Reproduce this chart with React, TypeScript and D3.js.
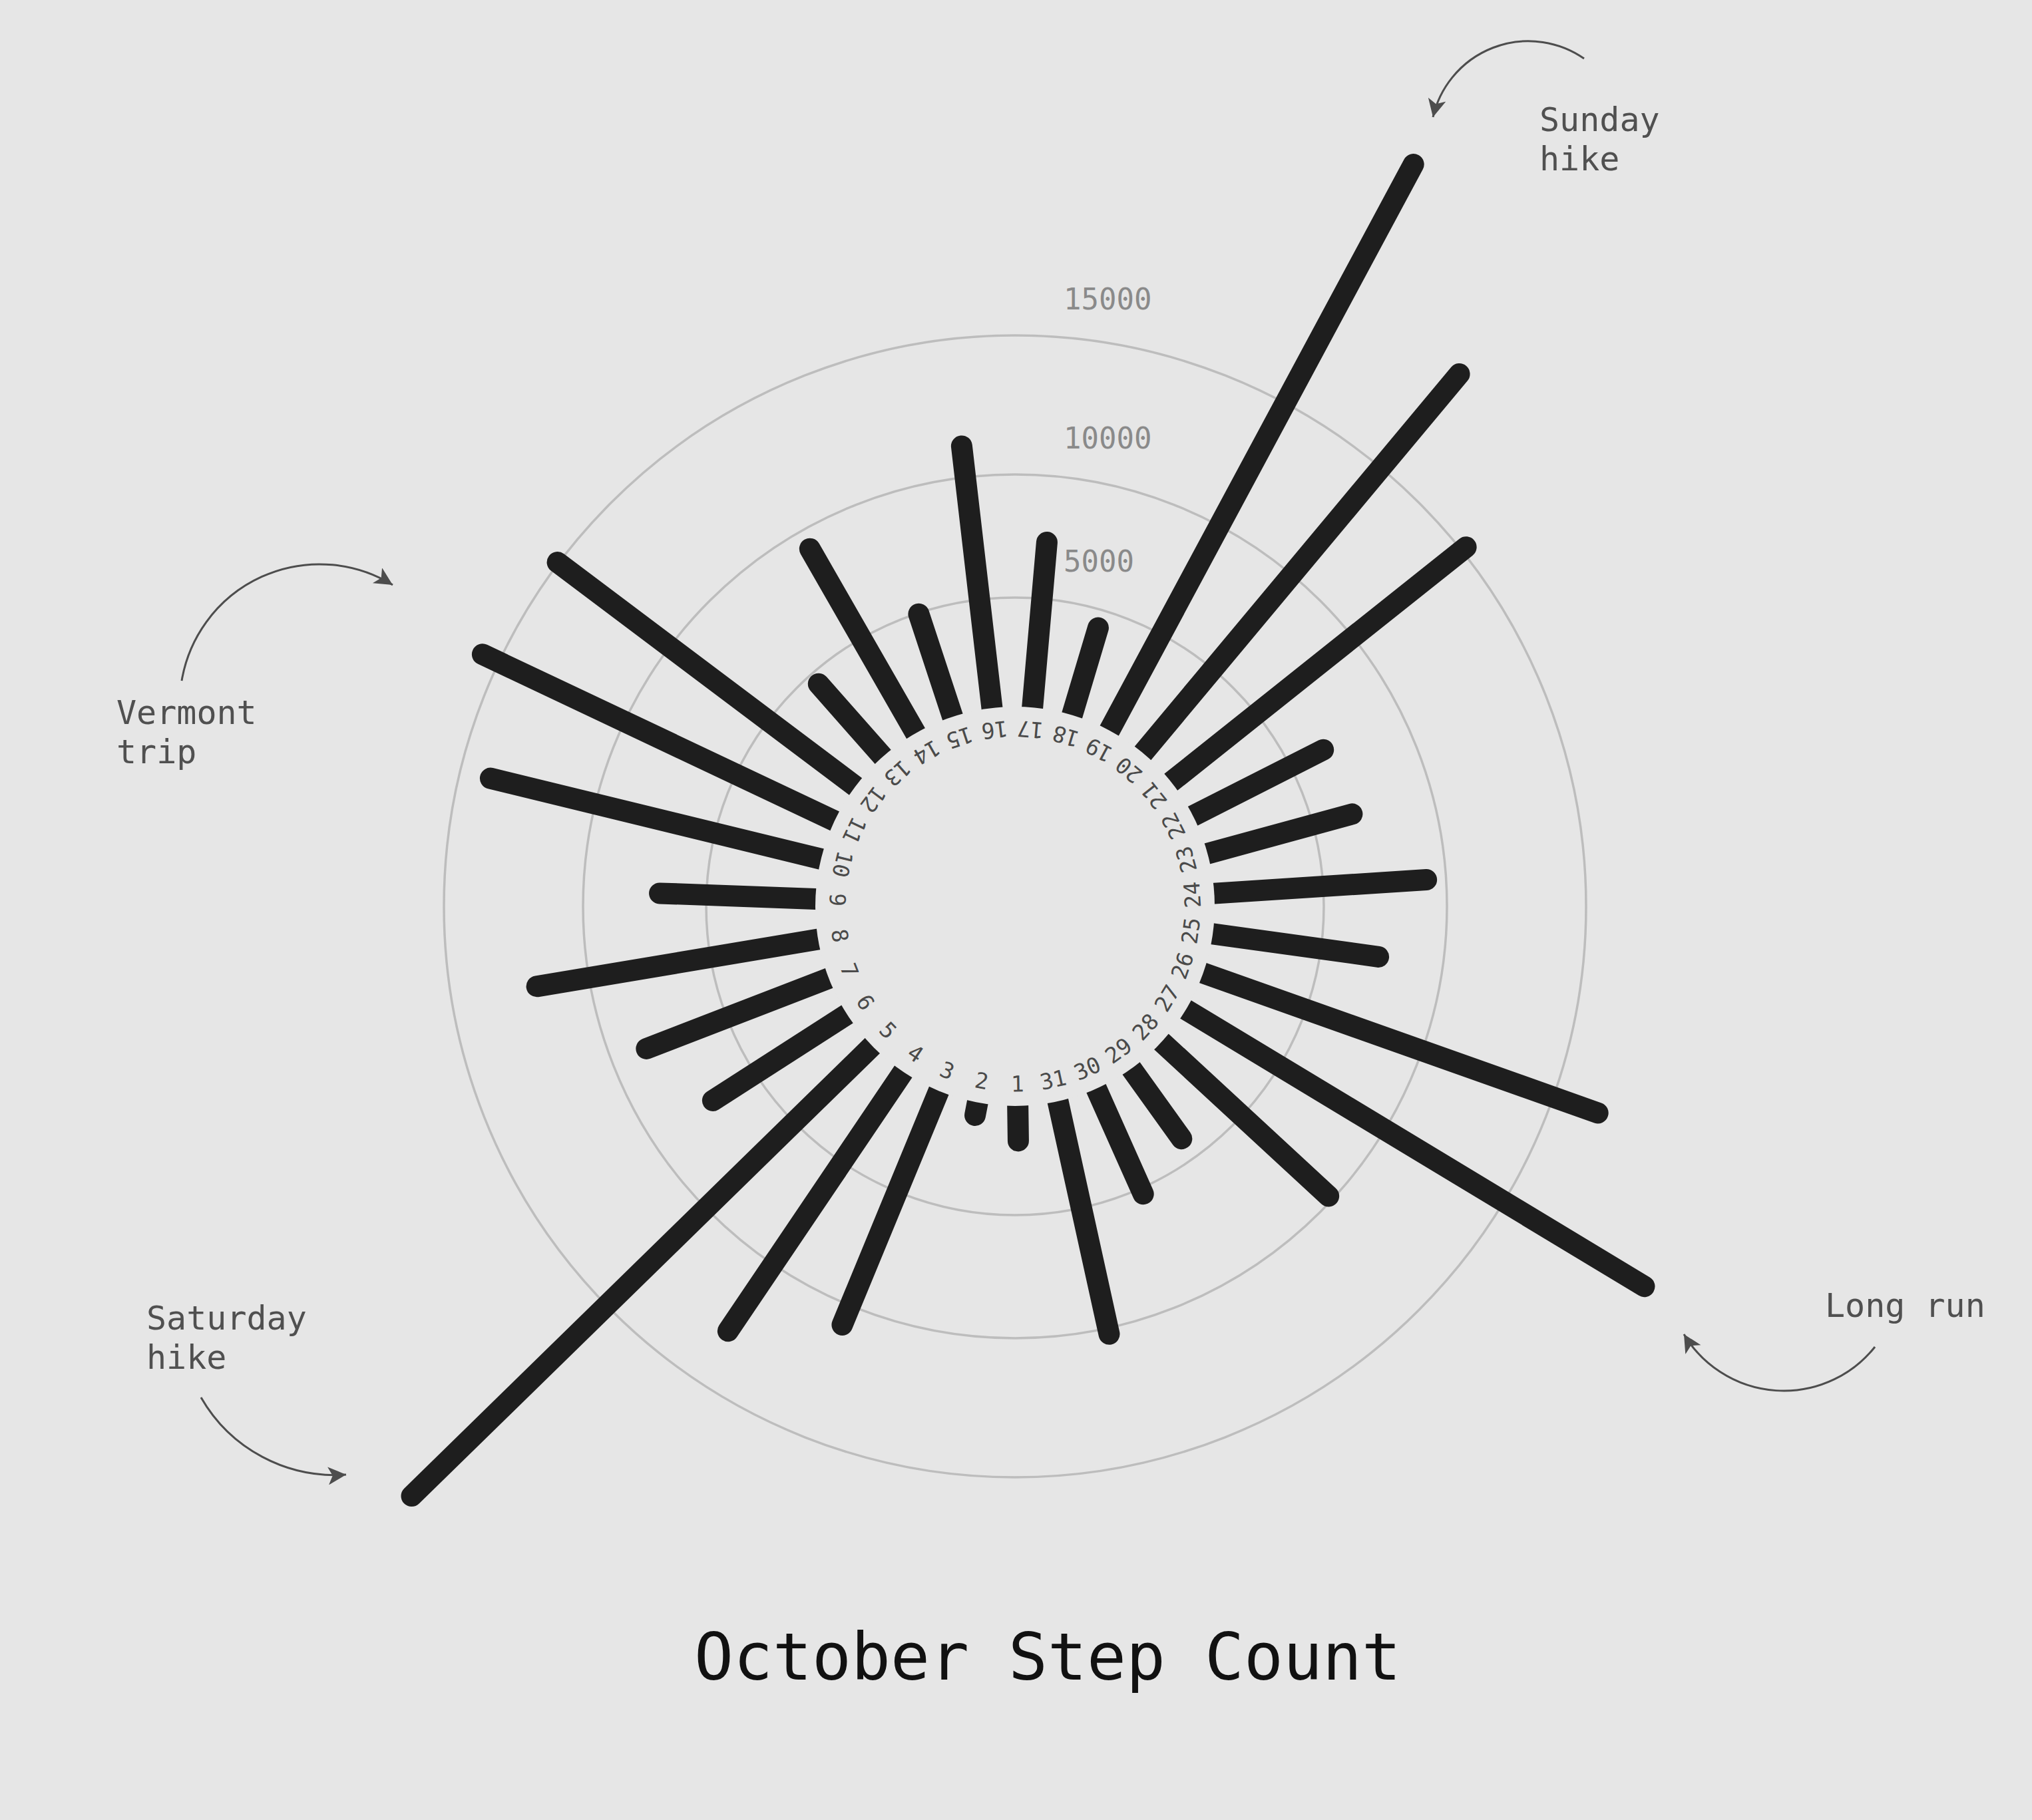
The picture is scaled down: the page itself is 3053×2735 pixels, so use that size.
import { useEffect, useRef } from "react";
import * as d3 from "d3";

// October step counts, one per day
const days = [
  1, 2, 3, 4, 5, 6, 7, 8, 9, 10, 11, 12, 13, 14, 15, 16,
  17, 18, 19, 20, 21, 22, 23, 24, 25, 26, 27, 28, 29, 30, 31,
];
const steps = [
  1600, 600, 10750, 12900, 24800, 7050, 8500, 11900, 6900, 13880, 15650,
  15050, 4450, 9200, 4950, 11130, 7300, 4170, 24750, 19400, 15200, 6500,
  6650, 9200, 7360, 16700, 20900, 9800, 3950, 5250, 10220,
];
const gridTicks = [5000, 10000, 15000];
const noteLabels = [["Sunday", "hike"], ["Vermont", "trip"], ["Saturday", "hike"], ["Long run"]];
const chartTitle = "October Step Count";

const W = 3053;
const H = 2735;
const BG = "#e6e6e6";
const FONT = "'DejaVu Sans Mono', 'Liberation Mono', monospace";

// where each annotation sits: text anchor + curved arrow (arc)
const noteLayout = [
  { x: 2313, y: 197, from: [2380, 88], to: [2153, 176], r: 147, sweep: 0 },
  { x: 175, y: 1088, from: [273, 1023], to: [590, 879], r: 210, sweep: 1 },
  { x: 220, y: 1998, from: [302, 2100], to: [520, 2216], r: 232, sweep: 0 },
  { x: 2742, y: 1979, from: [2817, 2024], to: [2530, 2005], r: 175, sweep: 1 },
];

export default function App() {
  const svgRef = useRef<SVGSVGElement | null>(null);

  useEffect(() => {
    if (!svgRef.current) return;
    const svg = d3.select(svgRef.current);
    svg.selectAll("*").remove();

    const cx = 1525;
    const cy = 1362;
    const innerRadius = 300;
    const labelRadius = 267;

    svg.append("rect").attr("width", W).attr("height", H).attr("fill", BG);

    const defs = svg.append("defs");
    defs
      .append("marker")
      .attr("id", "arrowhead")
      .attr("viewBox", "0 0 10 10")
      .attr("refX", 10)
      .attr("refY", 5)
      .attr("markerUnits", "userSpaceOnUse")
      .attr("markerWidth", 31)
      .attr("markerHeight", 27)
      .attr("orient", "auto")
      .append("path")
      .attr("d", "M0,0 L10,5 L0,10 L2.5,5 Z")
      .attr("fill", "#4d4d4d");

    const g = svg.append("g").attr("transform", `translate(${cx},${cy})`);

    // radial scale (grid rings are not evenly spaced in the original)
    const r = d3
      .scaleLinear()
      .domain([0, 5000, 10000, 15000])
      .range([innerRadius, 464, 649, 858]);

    const startAngle = (179.2 * Math.PI) / 180;
    const angle = d3
      .scaleBand<number>()
      .domain(days)
      .range([startAngle, startAngle + Math.PI * 2]);

    // grid circles
    g.selectAll(".grid")
      .data(gridTicks)
      .join("circle")
      .attr("class", "grid")
      .attr("r", (d) => r(d))
      .attr("fill", "none")
      .attr("stroke", "#bdbdbd")
      .attr("stroke-width", 3.5);

    g.selectAll(".tick-label")
      .data(gridTicks)
      .join("text")
      .attr("class", "tick-label")
      .attr("x", 73)
      .attr("y", (d) => -r(d) - 39)
      .attr("font-family", FONT)
      .attr("font-size", 44)
      .attr("fill", "#8a8a8a")
      .text((d) => String(d));

    // bars
    const data = days.map((d, i) => ({ day: d, value: steps[i] }));
    g.selectAll(".bar")
      .data(data)
      .join("line")
      .attr("class", "bar")
      .attr("x1", (d) => innerRadius * Math.sin(angle(d.day)!))
      .attr("y1", (d) => -innerRadius * Math.cos(angle(d.day)!))
      .attr("x2", (d) => r(d.value) * Math.sin(angle(d.day)!))
      .attr("y2", (d) => -r(d.value) * Math.cos(angle(d.day)!))
      .attr("stroke", "#1e1e1e")
      .attr("stroke-width", 32)
      .attr("stroke-linecap", "round");

    // hide the inner caps
    g.append("circle").attr("r", innerRadius).attr("fill", BG);

    // day labels, tops facing the centre
    g.selectAll(".day-label")
      .data(days)
      .join("text")
      .attr("class", "day-label")
      .attr(
        "transform",
        (d) => `rotate(${(angle(d)! * 180) / Math.PI + 180}) translate(0,${labelRadius})`
      )
      .attr("text-anchor", "middle")
      .attr("dominant-baseline", "central")
      .attr("font-family", FONT)
      .attr("font-size", 33)
      .attr("fill", "#4a4a4a")
      .text((d) => String(d));

    // annotations
    noteLayout.forEach((n, i) => {
      svg
        .append("path")
        .attr(
          "d",
          `M${n.from[0]},${n.from[1]} A${n.r},${n.r} 0 0 ${n.sweep} ${n.to[0]},${n.to[1]}`
        )
        .attr("fill", "none")
        .attr("stroke", "#4d4d4d")
        .attr("stroke-width", 3)
        .attr("marker-end", "url(#arrowhead)");

      const t = svg
        .append("text")
        .attr("x", n.x)
        .attr("y", n.y)
        .attr("font-family", FONT)
        .attr("font-size", 50)
        .attr("fill", "#505050");
      noteLabels[i].forEach((line, j) => {
        t.append("tspan").attr("x", n.x).attr("dy", j === 0 ? 0 : 59).text(line);
      });
    });

    svg
      .append("text")
      .attr("x", 1574)
      .attr("y", 2524)
      .attr("text-anchor", "middle")
      .attr("font-family", FONT)
      .attr("font-size", 98)
      .attr("fill", "#111")
      .text(chartTitle);
  }, []);

  return (
    <svg
      ref={svgRef}
      width={W}
      height={H}
      style={{ position: "absolute", left: 0, top: 0, display: "block" }}
    />
  );
}
